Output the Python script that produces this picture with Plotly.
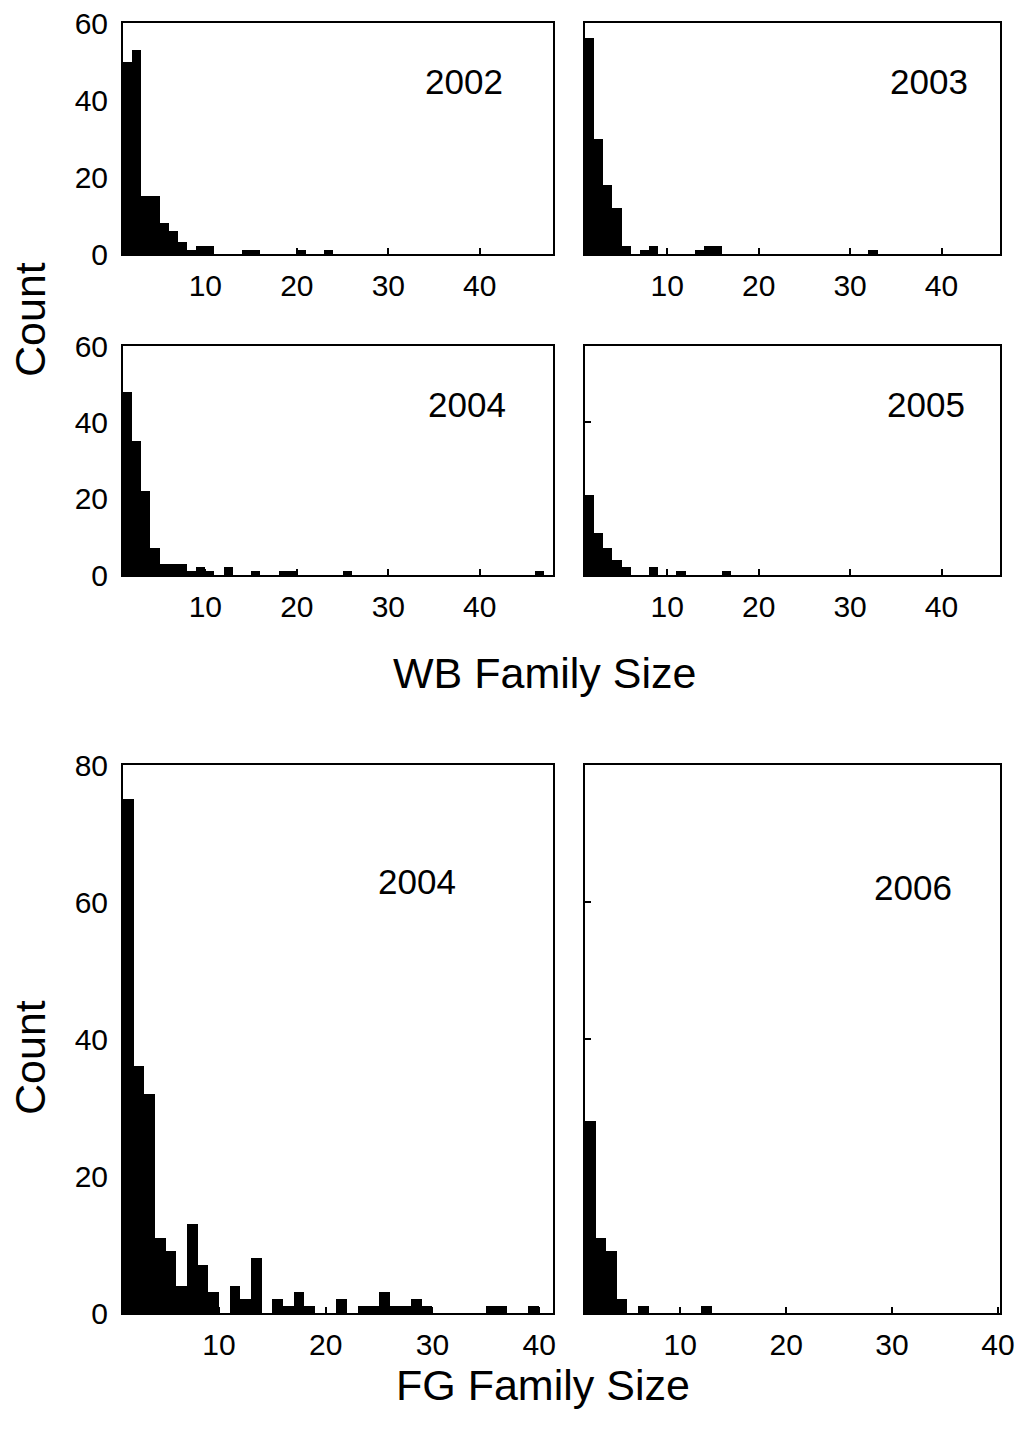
import plotly.graph_objects as go

# Counts per family-size bin; bin k covers [k, k+1), first entry is k = 1
wb2002 = [50, 53, 15, 15, 8, 6, 3, 1, 2, 2, 0, 0, 0, 1, 1, 0, 0, 0, 0, 1, 0, 0, 1]
wb2003 = [56, 30, 18, 12, 2, 0, 1, 2, 0, 0, 0, 0, 1, 2, 2] + [0] * 16 + [1]
wb2004 = [48, 35, 22, 7, 3, 3, 3, 1, 2, 1, 0, 2, 0, 0, 1, 0, 0, 1, 1,
          0, 0, 0, 0, 0, 1] + [0] * 20 + [1]
wb2005 = [21, 11, 7, 4, 2, 0, 0, 2, 0, 0, 1, 0, 0, 0, 0, 1]
fg2004 = [75, 36, 32, 11, 9, 4, 13, 7, 3, 0, 4, 2, 8, 0, 2, 1, 3, 1, 0, 0,
          2, 0, 1, 1, 3, 1, 1, 2, 1, 0, 0, 0, 0, 0, 1, 1, 0, 0, 1]
fg2006 = [28, 11, 9, 2, 0, 1, 0, 0, 0, 0, 0, 1]

panels = [
    ("2002", wb2002), ("2003", wb2003),
    ("2004", wb2004), ("2005", wb2005),
    ("2004", fg2004), ("2006", fg2006),
]
x_ticks = [10, 20, 30, 40]
wb_y_ticks = [0, 20, 40, 60]
fg_y_ticks = [0, 20, 40, 60, 80]

W, H = 1021, 1437
# pixel boxes (left, right, top, bottom)
boxes = [
    (123, 553, 23, 254), (585, 1000, 23, 254),
    (123, 553, 346, 575), (585, 1000, 346, 575),
    (123, 553, 765, 1313), (585, 1000, 765, 1313),
]
x_ranges = [[1, 48], [1, 46.4], [1, 48], [1, 46.4], [1, 41.3], [1, 40.2]]
label_pos = [(464, 82), (929, 82), (467, 405), (926, 405), (417, 881), (913, 888)]

FONT = "Liberation Sans, Arial, sans-serif"
fig = go.Figure()
layout = {}
annotations = []
for i, ((year, counts), box, xr, lp) in enumerate(zip(panels, boxes, x_ranges, label_pos)):
    n = i + 1
    xa = "x" if n == 1 else f"x{n}"
    ya = "y" if n == 1 else f"y{n}"
    xs = [k + 0.5 for k in range(1, len(counts) + 1)]
    fig.add_trace(go.Bar(x=xs, y=counts, width=1, xaxis=xa, yaxis=ya,
                         marker=dict(color="black", line=dict(width=0)),
                         showlegend=False))
    l, r, t, b = box
    is_fg = i >= 4
    left_col = (i % 2 == 0)
    layout[f"xaxis{'' if n == 1 else n}"] = dict(
        domain=[l / W, r / W], anchor=ya, range=xr, automargin=False,
        tickvals=x_ticks, ticks="inside", ticklen=6, tickwidth=2, tickcolor="black",
        showline=True, linecolor="black", linewidth=2, mirror=True,
        showgrid=False, zeroline=False, ticklabelstandoff=4,
        tickfont=dict(family=FONT, size=30, color="black"),
    )
    layout[f"yaxis{'' if n == 1 else n}"] = dict(
        domain=[1 - b / H, 1 - t / H], anchor=xa, automargin=False,
        range=[0, 80] if is_fg else [0, 60],
        tickvals=fg_y_ticks if is_fg else wb_y_ticks,
        showticklabels=left_col, ticklabelstandoff=7,
        ticks="inside", ticklen=6, tickwidth=2, tickcolor="black",
        showline=True, linecolor="black", linewidth=2, mirror=True,
        showgrid=False, zeroline=False,
        tickfont=dict(family=FONT, size=30, color="black"),
    )
    annotations.append(dict(text=year, x=lp[0] / W, y=1 - lp[1] / H,
                            xref="paper", yref="paper", showarrow=False,
                            xanchor="center", yanchor="middle",
                            font=dict(family=FONT, size=35, color="black")))

annotations += [
    dict(text="Count", x=30 / W, y=1 - 320 / H, textangle=-90),
    dict(text="Count", x=30 / W, y=1 - 1058 / H, textangle=-90),
    dict(text="WB Family Size", x=544 / W, y=1 - 673 / H),
    dict(text="FG Family Size", x=543 / W, y=1 - 1385 / H),
]
for a in annotations[6:]:
    a.update(xref="paper", yref="paper", showarrow=False,
             xanchor="center", yanchor="middle",
             font=dict(family=FONT, size=43, color="black"))

fig.update_layout(
    width=W, height=H, margin=dict(l=0, r=0, t=0, b=0, pad=0, autoexpand=False),
    paper_bgcolor="white", plot_bgcolor="white",
    bargap=0, annotations=annotations, **layout,
)
fig.write_html("out.html", config={"responsive": False, "displayModeBar": False},
               post_script="document.body.style.margin='0';document.body.style.overflow='hidden';")
